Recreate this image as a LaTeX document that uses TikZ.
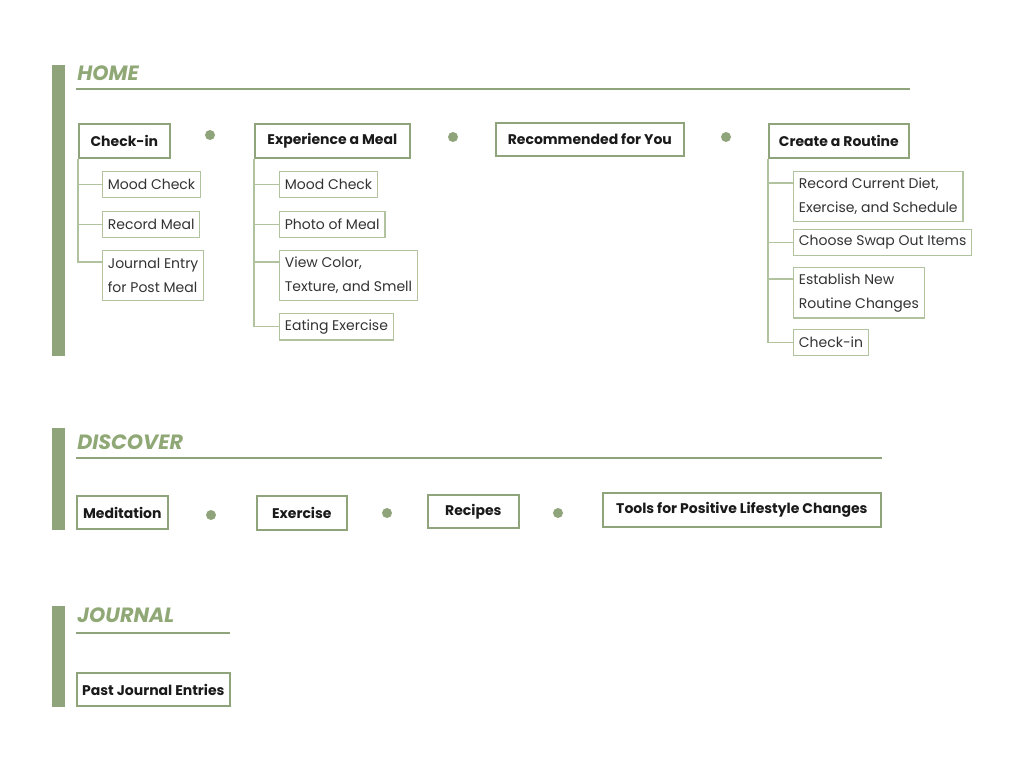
\documentclass[tikz,border=0pt]{standalone}
\usepackage{fontspec}
\setmainfont{Poppins}
\usetikzlibrary{positioning}
\definecolor{cSage}{RGB}{143,164,122}
\definecolor{cSageLight}{RGB}{176,194,158}
\definecolor{cTitle}{RGB}{143,168,118}
\definecolor{cInk}{RGB}{26,26,26}
\tikzset{
  mainbox/.style={rectangle, draw=cSage, line width=1.5pt, fill=white,
                  font=\fontsize{10.5}{12}\selectfont\bfseries, text=cInk,
                  minimum height=25pt, inner xsep=0pt, anchor=west},
  subbox/.style={rectangle, draw=cSageLight, line width=0.8pt, fill=white,
                 font=\fontsize{10.5}{18}\selectfont, text=black!80,
                 align=left, inner xsep=4pt, inner ysep=4.5pt,
                 minimum height=19.5pt, anchor=north west},
  tallbox/.style={subbox, minimum height=37.5pt},
  branch/.style={draw=cSageLight, line width=0.8pt},
  sectitle/.style={font=\fontsize{15.5}{18}\selectfont\bfseries\itshape,
                   text=cTitle, anchor=west, inner sep=0pt},
  secrule/.style={draw=cSage, line width=1.5pt},
  sidebar/.style={fill=cSage},
  sepdot/.style={circle, fill=cSage, inner sep=0pt, minimum size=7.5pt}
}
\begin{document}
\begin{tikzpicture}[x=0.75pt, y=-0.75pt]
  \useasboundingbox (0,0) rectangle (1024,768);

  % ---- HOME
  \fill[sidebar] (52,65) rectangle (65,356);
  \node[sectitle] (home) at (77,73) {HOME};
  \draw[secrule] (76,89) -- (910,89);

  \node[mainbox, minimum width=68pt] (ci) at (78,141) {Check-in};
  \node[sepdot] (d1) at (210,135) {};
  \node[mainbox, minimum width=116pt] (meal) at (254,141) {Experience a Meal};
  \node[sepdot] (d2) at (453,137) {};
  \node[mainbox, minimum width=140.75pt] (rec) at (495,139.5) {Recommended for You};
  \node[sepdot] (d3) at (726,137) {};
  \node[mainbox, minimum width=104.75pt] (rout) at (768,141) {Create a Routine};

  \node[subbox] (ci1) at (102,171) {Mood Check};
  \node[subbox] (ci2) at (102,211) {Record Meal};
  \node[tallbox] (ci3) at (102,250) {Journal Entry\\for Post Meal};

  \node[subbox] (meal1) at (279,171) {Mood Check};
  \node[subbox] (meal2) at (279,211) {Photo of Meal};
  \node[tallbox] (meal3) at (279,250) {View Color,\\Texture, and Smell};
  \node[subbox] (meal4) at (279,313) {Eating Exercise};

  \node[tallbox] (rout1) at (793,171) {Record Current Diet,\\Exercise, and Schedule};
  \node[subbox] (rout2) at (793,229) {Choose Swap Out Items};
  \node[tallbox] (rout3) at (793,267) {Establish New\\Routine Changes};
  \node[subbox] (rout4) at (793,329) {Check-in};

  \foreach \kid in {ci1, ci2}
    \draw[branch] (ci.south west) |- (\kid.west);
  \draw[branch] (ci.south west) |- ([yshift=-9pt]ci3.north west);

  \foreach \kid in {meal1, meal2, meal4}
    \draw[branch] (meal.south west) |- (\kid.west);
  \draw[branch] (meal.south west) |- ([yshift=-9pt]meal3.north west);

  \foreach \kid in {rout2, rout4}
    \draw[branch] (rout.south west) |- (\kid.west);
  \foreach \kid in {rout1, rout3}
    \draw[branch] (rout.south west) |- ([yshift=-9pt]\kid.north west);

  % ---- DISCOVER
  \fill[sidebar] (52,428) rectangle (65,530);
  \node[sectitle] (disc) at (77,442) {DISCOVER};
  \draw[secrule] (76,458) -- (882,458);

  \node[mainbox, minimum width=68pt] (medi) at (76,512.5) {Meditation};
  \node[sepdot] (d4) at (211,515) {};
  \node[mainbox, minimum width=67.25pt] (exer) at (256,513) {Exercise};
  \node[sepdot] (d5) at (387,513) {};
  \node[mainbox, minimum width=68pt] (reci) at (427,511.5) {Recipes};
  \node[sepdot] (d6) at (558,513) {};
  \node[mainbox, minimum width=208.25pt] (tools) at (602,510) {Tools for Positive Lifestyle Changes};

  % ---- JOURNAL
  \fill[sidebar] (52,606) rectangle (65,707);
  \node[sectitle] (jour) at (77,615) {JOURNAL};
  \draw[secrule] (76,633) -- (230,633);

  \node[mainbox, minimum width=114.5pt] (past) at (76,689.5) {Past Journal Entries};
\end{tikzpicture}
\end{document}
